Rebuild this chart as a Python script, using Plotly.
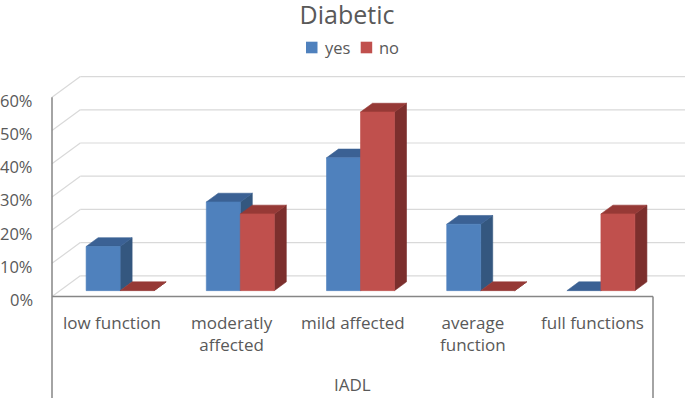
import plotly.graph_objects as go

# ---------------- data ----------------
categories = ["low function", "moderatly<br>affected", "mild affected", "average<br>function", "full functions"]
series_names = ["yes", "no"]
yes_values = [13.3, 26.7, 40.0, 20.0, 0.0]
no_values = [0.0, 23.1, 53.8, 0.0, 23.1]
y_ticks = [0, 10, 20, 30, 40, 50, 60]
y_tick_labels = ["0%", "10%", "20%", "30%", "40%", "50%", "60%"]
axis_title = "IADL"
chart_title = "Diabetic"

# ---------------- geometry (pixel based projection) ----------------
W, H = 685, 398
CAT_PX = 120.2      # px per category on the front plane
PCT_PX = 3.32       # px per 1 %
X0_PX = 52          # front-left corner x
Y0_PX = 296.5       # front zero line y
DX = 28.3 / CAT_PX  # depth offset (category units)
DY = 20.7 / PCT_PX  # depth offset (percent units)
F0, F1 = 0.283, 0.707   # bar front / back depth fraction
BAR_W = 34 / CAT_PX

x_rng = [-0.5 - X0_PX / CAT_PX, -0.5 + (W - X0_PX) / CAT_PX]
y_rng = [-(H - Y0_PX) / PCT_PX, Y0_PX / PCT_PX]

def px_x(px):
    return px / W

def px_y(py):
    return 1 - py / H

FONT = "Open Sans"
TXT = "#595959"
FS = 17
colors = {
    "yes": {"front": "#4f81bd", "side": "#34577f", "top": "#3b6194"},
    "no": {"front": "#c0504d", "side": "#7c2f2d", "top": "#963936"},
}

fig = go.Figure()

def poly(xs, ys, color):
    fig.add_trace(go.Scatter(
        x=xs + [xs[0]], y=ys + [ys[0]], mode="lines", fill="toself",
        fillcolor=color, line=dict(color=color, width=0.6),
        hoverinfo="skip", showlegend=False))

def line(xs, ys, color, width):
    fig.add_trace(go.Scatter(x=xs, y=ys, mode="lines",
                             line=dict(color=color, width=width),
                             hoverinfo="skip", showlegend=False))

# back wall gridlines and slanted side-wall lines
n = len(categories)
for t in y_ticks:
    line([-0.5 + DX, x_rng[1] + 0.1], [t + DY, t + DY], "#d9d9d9", 1.2)
    line([-0.5, -0.5 + DX], [t, t + DY], "#d9d9d9", 1.2)

# bars
d_x = (F1 - F0) * DX
d_y = (F1 - F0) * DY
yb = F0 * DY
for i in range(n):
    xc = i + F0 * DX
    for k, (name, vals) in enumerate([("yes", yes_values), ("no", no_values)]):
        v = vals[i]
        xl = xc - BAR_W + k * BAR_W
        xr = xl + BAR_W
        c = colors[name]
        poly([xr, xr + d_x, xr + d_x, xr], [yb, yb + d_y, yb + d_y + v, yb + v], c["side"])
        poly([xl, xr, xr + d_x, xl + d_x], [yb + v, yb + v, yb + d_y + v, yb + d_y + v], c["top"])
        if v > 0:
            poly([xl, xr, xr, xl], [yb, yb, yb + v, yb + v], c["front"])

# axis lines / category box
AX = "#868686"
line([-0.5, -0.5], [y_ticks[-1], y_rng[0] - 1], AX, 1.5)
line([-0.5, n - 0.5], [0, 0], AX, 1.5)
line([n - 0.5, n - 0.5], [0, y_rng[0] - 1], AX, 1.5)

annotations = []
for t, lab in zip(y_ticks, y_tick_labels):
    annotations.append(dict(x=-0.5, y=t, text=lab, xanchor="right", yanchor="middle",
                            xshift=-17, yshift=-3, showarrow=False,
                            font=dict(family=FONT, size=16.5, color=TXT)))
for i, cat in enumerate(categories):
    annotations.append(dict(x=i, y=-(309 - Y0_PX) / PCT_PX, text=cat, xanchor="center",
                            yanchor="top", showarrow=False,
                            font=dict(family=FONT, size=FS, color=TXT)))
annotations.append(dict(x=(n - 1) / 2, y=-(384 - Y0_PX) / PCT_PX, text=axis_title,
                        xanchor="center", yanchor="middle", showarrow=False,
                        font=dict(family=FONT, size=FS, color=TXT)))

# legend (manual)
shapes = []
leg = [("yes", 306, 322.7), ("no", 360.7, 376.7)]
for name, sq_x, tx in leg:
    shapes.append(dict(type="rect", xref="paper", yref="paper",
                       x0=px_x(sq_x), x1=px_x(sq_x + 11.5),
                       y0=px_y(53.3), y1=px_y(41.7),
                       fillcolor=colors[name]["front"], line=dict(width=0)))
    annotations.append(dict(xref="paper", yref="paper", x=px_x(tx), y=px_y(47.5),
                            text=name, xanchor="left", yanchor="middle", showarrow=False,
                            font=dict(family=FONT, size=16.5, color=TXT)))

fig.update_layout(
    width=W, height=H, autosize=False,
    margin=dict(l=0, r=0, t=0, b=0),
    paper_bgcolor="white", plot_bgcolor="white",
    title=dict(text=chart_title, x=px_x(347), xanchor="center", y=px_y(15.5), yanchor="middle",
               font=dict(family=FONT, size=25, color=TXT)),
    xaxis=dict(range=x_rng, visible=False, fixedrange=True),
    yaxis=dict(range=y_rng, visible=False, fixedrange=True),
    showlegend=False,
    annotations=annotations,
    shapes=shapes,
)

fig.write_html("out.html", config={"displayModeBar": False, "staticPlot": True},
               post_script="document.body.style.margin='0';document.body.style.overflow='hidden';")
